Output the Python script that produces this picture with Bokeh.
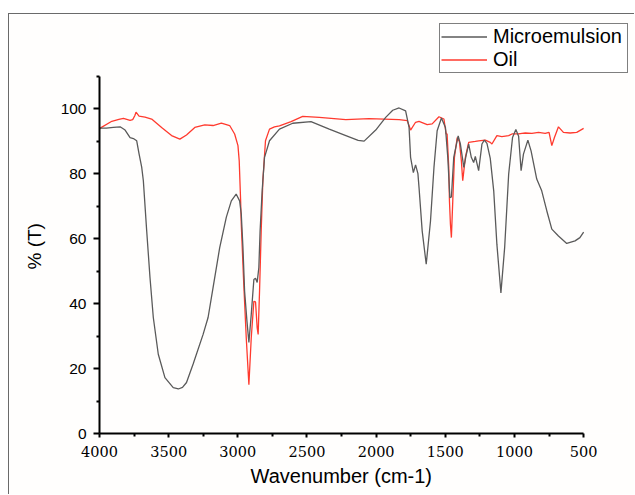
from bokeh.plotting import figure
from bokeh.models import Legend, LegendItem, Range1d, FixedTicker, Title
from bokeh.embed import file_html
from bokeh.resources import INLINE

# ---- data ----
micro_wn = [4000, 3950, 3900, 3851, 3815, 3779, 3755, 3731, 3714, 3695, 3683, 3659, 3635, 3611,
            3575, 3527, 3467, 3430, 3400, 3371, 3323, 3251, 3215, 3179, 3131, 3083, 3047, 3012,
            2987, 2975, 2963, 2951, 2934, 2920, 2903, 2884, 2872, 2860, 2848, 2839, 2824, 2807,
            2771, 2699, 2603, 2471, 2339, 2219, 2130, 2087, 2003, 1931, 1880, 1834, 1787, 1762,
            1751, 1731, 1715, 1698, 1690, 1667, 1638, 1607, 1582, 1559, 1528, 1499, 1482, 1467,
            1456, 1439, 1407, 1391, 1366, 1350, 1331, 1312, 1295, 1283, 1259, 1235, 1218, 1199,
            1175, 1150, 1127, 1098, 1071, 1042, 1014, 990, 970, 952, 935, 903, 880, 839, 803,
            766, 730, 682, 622, 562, 527, 500]
micro_t = [94.0, 94.0, 94.2, 94.4, 93.4, 91.1, 90.8, 90.1, 86.1, 82.0, 77.8, 62.5, 48.0, 35.7,
           24.4, 17.2, 14.1, 13.7, 14.2, 15.7, 21.4, 30.5, 35.7, 44.9, 57.2, 66.6, 71.6, 73.7,
           71.6, 67.5, 57.3, 43.8, 34.6, 28.0, 36.6, 47.4, 47.8, 46.5, 51.1, 62.3, 74.7, 85.0,
           90.1, 93.7, 95.5, 96.0, 93.7, 91.7, 90.2, 90.0, 93.4, 97.3, 99.5, 100.2, 99.3, 94.2,
           85.0, 80.3, 82.7, 80.0, 75.7, 62.3, 52.1, 65.4, 81.9, 93.2, 97.1, 94.2, 85.0, 72.6,
           72.8, 85.0, 91.6, 89.1, 81.9, 85.5, 89.1, 85.0, 83.4, 85.3, 80.9, 89.1, 90.3, 89.3,
           84.7, 74.7, 58.2, 43.3, 57.2, 79.8, 91.1, 93.6, 91.5, 80.9, 86.0, 90.3, 87.0, 78.3,
           74.7, 68.5, 62.9, 60.8, 58.5, 59.3, 60.3, 62.0]

oil_wn = [4000, 3995, 3911, 3860, 3827, 3779, 3760, 3745, 3736, 3714, 3671, 3623, 3551, 3479,
          3419, 3371, 3311, 3239, 3179, 3119, 3059, 3023, 2999, 2990, 2980, 2975, 2958, 2939,
          2920, 2903, 2884, 2872, 2860, 2853, 2843, 2831, 2819, 2800, 2771, 2735, 2699, 2615,
          2531, 2411, 2219, 2051, 1834, 1775, 1751, 1715, 1690, 1631, 1595, 1546, 1510, 1494,
          1487, 1475, 1470, 1463, 1456, 1446, 1434, 1414, 1398, 1384, 1374, 1355, 1331, 1283,
          1259, 1211, 1175, 1163, 1127, 1091, 1042, 1018, 970, 946, 922, 874, 826, 778, 750,
          730, 711, 682, 646, 598, 550, 500]
oil_t = [93.7, 94.0, 96.1, 96.7, 97.0, 96.4, 96.6, 97.8, 98.9, 97.7, 97.4, 96.8, 94.2, 91.7,
         90.6, 91.9, 94.2, 95.0, 94.8, 95.5, 94.8, 92.2, 88.6, 84.0, 72.0, 64.4, 46.9, 29.4,
         15.0, 29.4, 40.7, 40.5, 32.5, 30.5, 43.8, 62.3, 77.8, 90.1, 93.7, 94.4, 94.7, 96.0,
         97.6, 97.3, 96.6, 96.9, 96.6, 96.3, 93.4, 95.8, 96.1, 95.1, 95.3, 97.5, 96.8, 92.2,
         92.2, 81.9, 71.6, 64.4, 60.3, 71.6, 85.0, 91.1, 89.8, 84.0, 77.8, 85.0, 89.6, 89.9,
         90.1, 90.3, 89.6, 89.1, 91.7, 91.4, 91.7, 92.2, 92.2, 92.4, 92.5, 92.4, 92.7, 92.4,
         92.7, 88.6, 91.1, 94.4, 92.7, 92.5, 92.7, 93.9]

x_ticks = [4000, 3500, 3000, 2500, 2000, 1500, 1000, 500]
x_minor = [3750, 3250, 2750, 2250, 1750, 1250, 750]
y_ticks = [0, 20, 40, 60, 80, 100]
y_minor = [10, 30, 50, 70, 90, 110]
series_names = ["Microemulsion", "Oil"]
x_title = "Wavenumber (cm-1)"
y_title = "% (T)"

# The frame is extended right/up so the legend sits inside it; the axes are bounded to the data span.
p = figure(width=626, height=481, output_backend="svg", toolbar_location=None,
           x_range=Range1d(4000, 175.6), y_range=Range1d(0, 126.2),
           min_border_left=87, min_border_right=7, min_border_top=9, min_border_bottom=62)
p.styles = {"margin-left": "8px", "margin-top": "13px",
            "border-top": "1px solid #6a6a6a", "border-left": "1px solid #6a6a6a"}
p.outline_line_color = None
p.grid.visible = False
p.background_fill_color = "#fffefd"
p.border_fill_color = "#fffefd"

oil = p.line(oil_wn, oil_t, line_color="#ff3a2e", line_width=1.3)
micro = p.line(micro_wn, micro_t, line_color="#5a5a5a", line_width=1.3)

for ax in (p.xaxis[0], p.yaxis[0]):
    ax.axis_line_width = 2
    ax.axis_line_color = "black"
    ax.major_tick_line_width = 2
    ax.minor_tick_line_width = 2
    ax.major_tick_in = 0
    ax.minor_tick_in = 0
    ax.major_label_text_color = "black"

xa = p.xaxis[0]
xa.bounds = (500, 4000)
xa.ticker = FixedTicker(ticks=x_ticks, minor_ticks=x_minor)
xa.major_tick_out = 4
xa.minor_tick_out = 3
xa.major_label_text_font = "DejaVu Serif"
xa.major_label_text_font_size = "14.5px"
xa.major_label_standoff = 8

ya = p.yaxis[0]
ya.bounds = (0, 110)
ya.ticker = FixedTicker(ticks=y_ticks, minor_ticks=y_minor)
ya.major_tick_out = 6
ya.minor_tick_out = 3
ya.major_label_text_font = "Liberation Sans"
ya.major_label_text_font_size = "15.5px"
ya.major_label_standoff = 7

tx = Title(text=x_title, align="left", offset=151, text_font="Liberation Sans",
           text_font_size="20px", text_font_style="normal", text_color="black", standoff=6)
p.add_layout(tx, "below")
ty = Title(text=y_title, align="left", offset=164, text_font="Liberation Sans",
           text_font_size="19px", text_font_style="normal", text_color="black", standoff=25)
p.add_layout(ty, "left")

legend = Legend(items=[LegendItem(label=series_names[0], renderers=[micro]),
                       LegendItem(label=series_names[1], renderers=[oil])],
                location="top_right")
legend.label_text_font = "Liberation Sans"
legend.label_text_font_size = "20px"
legend.label_text_color = "black"
legend.glyph_width = 46
legend.glyph_height = 23
legend.label_height = 23
legend.label_width = 133
legend.label_standoff = 6
legend.spacing = 0
legend.padding = 1
legend.margin = 0
legend.border_line_color = "black"
legend.border_line_width = 1.5
legend.background_fill_color = "white"
legend.background_fill_alpha = 1.0
p.add_layout(legend)

open("out.html", "w").write(file_html(p, INLINE))
